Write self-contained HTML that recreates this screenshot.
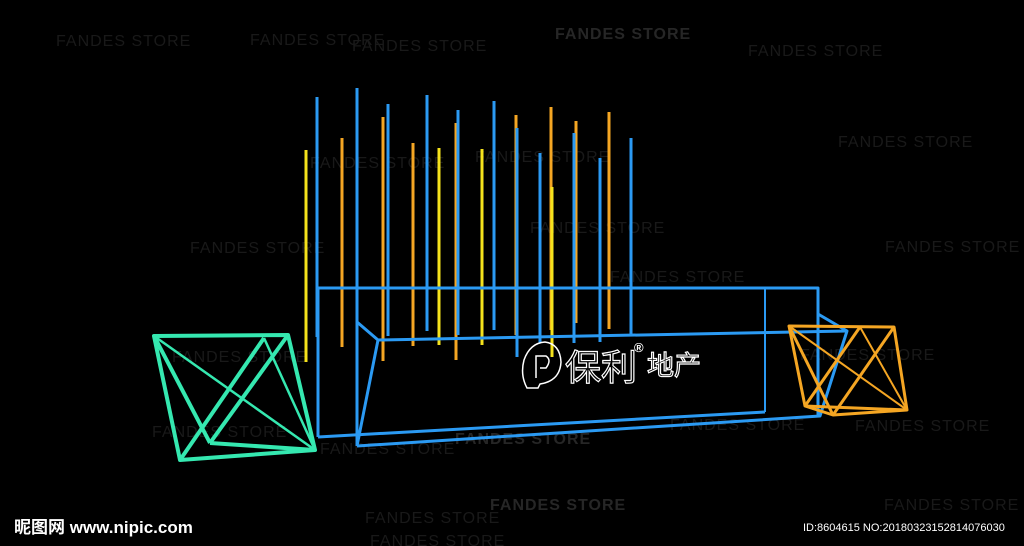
<!DOCTYPE html>
<html><head><meta charset="utf-8"><style>
html,body{margin:0;padding:0;background:#000;width:1024px;height:546px;overflow:hidden}
svg{display:block}
.wm{font-family:"Liberation Sans",sans-serif;font-size:16px;fill:#191919;letter-spacing:1px}
</style></head><body>
<svg width="1024" height="546" viewBox="0 0 1024 546" xmlns="http://www.w3.org/2000/svg">
<rect width="1024" height="546" fill="#000"/>
<g class="wm">
<text x="56" y="46">FANDES STORE</text>
<text x="250" y="45">FANDES STORE</text>
<text x="352" y="51">FANDES STORE</text>
<text x="555" y="39" style="fill:#262626;font-weight:bold">FANDES STORE</text>
<text x="748" y="56">FANDES STORE</text>
<text x="838" y="147">FANDES STORE</text>
<text x="310" y="168">FANDES STORE</text>
<text x="475" y="162">FANDES STORE</text>
<text x="190" y="253">FANDES STORE</text>
<text x="530" y="233">FANDES STORE</text>
<text x="885" y="252">FANDES STORE</text>
<text x="610" y="282">FANDES STORE</text>
<text x="172" y="362">FANDES STORE</text>
<text x="800" y="360">FANDES STORE</text>
<text x="152" y="437">FANDES STORE</text>
<text x="670" y="430">FANDES STORE</text>
<text x="855" y="431">FANDES STORE</text>
<text x="320" y="454">FANDES STORE</text>
<text x="455" y="444" style="fill:#262626;font-weight:bold">FANDES STORE</text>
<text x="490" y="510" style="fill:#262626;font-weight:bold">FANDES STORE</text>
<text x="884" y="510">FANDES STORE</text>
<text x="365" y="523">FANDES STORE</text>
<text x="370" y="546">FANDES STORE</text>
</g>
<g stroke-width="3" stroke-linecap="butt">
<line x1="306" y1="150" x2="306" y2="362" stroke="#f5e21c"/>
<line x1="342" y1="138" x2="342" y2="347" stroke="#f5a623"/>
<line x1="383" y1="117" x2="383" y2="361" stroke="#f5a623"/>
<line x1="413" y1="143" x2="413" y2="346" stroke="#f5a623"/>
<line x1="439" y1="148" x2="439" y2="345" stroke="#f5e21c"/>
<line x1="456" y1="123" x2="456" y2="360" stroke="#f5a623"/>
<line x1="482" y1="149" x2="482" y2="345" stroke="#f5e21c"/>
<line x1="516" y1="115" x2="516" y2="335" stroke="#f5a623"/>
<line x1="551" y1="107" x2="551" y2="330" stroke="#f5a623"/>
<line x1="552" y1="187" x2="552" y2="357" stroke="#f5e21c"/>
<line x1="576" y1="121" x2="576" y2="323" stroke="#f5a623"/>
<line x1="609" y1="112" x2="609" y2="329" stroke="#f5a623"/>
<line x1="317" y1="97" x2="317" y2="337" stroke="#2b9af3"/>
<line x1="357" y1="88" x2="357" y2="288" stroke="#2b9af3"/>
<line x1="388" y1="104" x2="388" y2="336" stroke="#2b9af3"/>
<line x1="427" y1="95" x2="427" y2="331" stroke="#2b9af3"/>
<line x1="458" y1="110" x2="458" y2="335" stroke="#2b9af3"/>
<line x1="494" y1="101" x2="494" y2="330" stroke="#2b9af3"/>
<line x1="517" y1="128" x2="517" y2="357" stroke="#2b9af3"/>
<line x1="540" y1="153" x2="540" y2="343" stroke="#2b9af3"/>
<line x1="574" y1="133" x2="574" y2="343" stroke="#2b9af3"/>
<line x1="600" y1="158" x2="600" y2="342" stroke="#2b9af3"/>
<line x1="631" y1="138" x2="631" y2="335" stroke="#2b9af3"/>
</g>
<g fill="none" stroke="#2b9af3" stroke-width="3" stroke-linejoin="round">
<polyline points="318,288 818,288 818,416"/>
<line x1="318" y1="288" x2="318" y2="437"/>
<line x1="357" y1="288" x2="357" y2="446"/>
<polyline points="357,322 378,340 357,446"/>
<line x1="378" y1="340" x2="847" y2="331"/>
<polyline points="818,314 847,331 820,416 357,446"/>
<line x1="318" y1="437" x2="765" y2="412"/>
<line x1="765" y1="288" x2="765" y2="412" stroke-width="2"/>
</g>
<g fill="none" stroke="#35e8b0" stroke-width="4" stroke-linejoin="round">
<polygon points="154,336 288,335 315,450 180,460"/>
<line x1="154" y1="336" x2="210" y2="443"/>
<line x1="210" y1="443" x2="315" y2="450"/>
<line x1="154" y1="336" x2="315" y2="450" stroke-width="2.5"/>
<line x1="180" y1="460" x2="264" y2="338"/>
<line x1="210" y1="443" x2="288" y2="335"/>
<line x1="264" y1="338" x2="315" y2="450" stroke-width="2.5"/>
</g>
<g fill="none" stroke="#f5a623" stroke-width="3" stroke-linejoin="round">
<polygon points="789,326 894,327 907,410 833,415 805,406"/>
<line x1="789" y1="326" x2="833" y2="415"/>
<line x1="789" y1="326" x2="907" y2="410" stroke-width="2"/>
<line x1="805" y1="406" x2="860" y2="327"/>
<line x1="833" y1="415" x2="894" y2="327"/>
<line x1="860" y1="327" x2="907" y2="410" stroke-width="2"/>
<line x1="805" y1="406" x2="907" y2="410"/>
</g>
<g fill="none" stroke="#fff" stroke-width="1.5">
<path d="M538,388 L527,388 Q520,375 524,360 Q530,343 545,342 Q560,344 561,362 Q560,381 540,384 Z"/>
<path d="M536,378 L536,356 L546,356 Q552,360 546,368 L540,368"/>
</g>
<text x="565" y="380" font-family="'Noto Sans CJK SC',sans-serif" font-size="36" fill="none" stroke="#fff" stroke-width="1.2">保利</text>
<text x="634" y="352" font-family="'Liberation Sans',sans-serif" font-size="13" fill="#fff" font-weight="bold">®</text>
<text x="647" y="375" font-family="'Noto Sans CJK SC',sans-serif" font-size="27" fill="none" stroke="#fff" stroke-width="1.2">地产</text>
<text x="14" y="533" font-family="'Liberation Sans','Noto Sans CJK SC',sans-serif" font-size="17" font-weight="bold" fill="#fff">昵图网 www.nipic.com</text>
<text x="803" y="531" font-family="'Liberation Sans',sans-serif" font-size="11" fill="#fff">ID:8604615 NO:20180323152814076030</text>
</svg>
</body></html>
